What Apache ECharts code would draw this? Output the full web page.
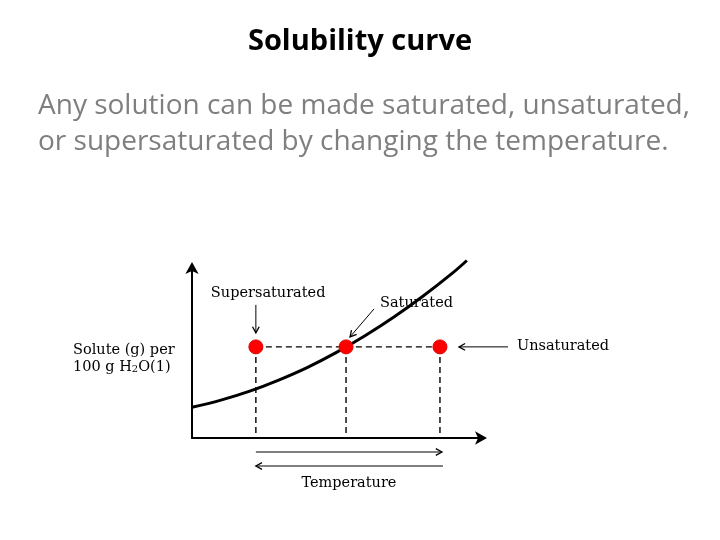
<!DOCTYPE html>
<html>
<head>
<meta charset="utf-8">
<script src="https://cdn.jsdelivr.net/npm/echarts@6/dist/echarts.min.js"></script>
<style>
html,body{margin:0;padding:0;background:#fff;}
#chart{width:720px;height:540px;}
</style>
</head>
<body>
<div id="chart"></div>
<script>
// curve (temperature / solute, arbitrary units 0-100)
var curveTemp = [0, 10, 20, 30, 40, 50, 60, 70, 80, 90, 95.1];
var curveSolute = [18.1, 22.3, 27.6, 34.1, 41.6, 50.4, 60.3, 71.3, 83.5, 96.8, 104.4];

// the three red points
var pointNames = ['Supersaturated', 'Saturated', 'Unsaturated'];
var pointTemp = [22.1, 53.3, 85.8];
var pointSolute = [53.6, 53.6, 53.6];

var titleText = 'Solubility curve';
var bodyLines = ['Any solution can be made saturated, unsaturated,',
                 'or supersaturated by changing the temperature.'];
var yLabelLines = ['Solute (g) per', '100 g H{sub|2}O(1)'];
var xLabel = 'Temperature';

var chart = echarts.init(document.getElementById('chart'));

var curveData = curveTemp.map(function(t, i){ return [t, curveSolute[i]]; });
var dotData = pointTemp.map(function(t, i){ return {name: pointNames[i], value: [t, pointSolute[i]]}; });

var dash = {color:'#000', width:1.4, type:[6,4]};

var series = [];
series.push({
  type:'line', data:[[pointTemp[0], pointSolute[0]], [pointTemp[2], pointSolute[2]]],
  symbol:'none', lineStyle:dash, clip:false, z:1, silent:true
});
pointTemp.forEach(function(t, i){
  series.push({
    type:'line', data:[[t, pointSolute[i]], [t, 0]],
    symbol:'none', lineStyle:dash, clip:false, z:1, silent:true
  });
});
series.push({
  type:'line', data:curveData, smooth:0.4, symbol:'none', clip:false, z:3,
  lineStyle:{color:'#000', width:3}
});
series.push({
  type:'scatter', data:dotData, symbolSize:14, z:5,
  itemStyle:{color:'#ff0000', borderColor:'#e00000', borderWidth:1, opacity:1}
});

var axisBase = {
  type:'value', min:0, max:100,
  axisLine:{show:true, symbol:['none','arrow'], symbolSize:[10,12], symbolOffset:[0,6],
            lineStyle:{color:'#000', width:2}},
  axisTick:{show:false}, axisLabel:{show:false}, splitLine:{show:false}
};

chart.setOption({
  animation:false,
  backgroundColor:'#fff',
  grid:{left:192, top:268, width:289, height:170, containLabel:false, outerBoundsMode:'none'},
  xAxis:axisBase,
  yAxis:axisBase,
  series:series
});

// annotations placed relative to the points through the grid's scale
function arrow(x1, y1, x2, y2){
  var a = Math.atan2(y2 - y1, x2 - x1), h = 7, w = 0.5;
  return [
    {type:'line', silent:true, shape:{x1:x1, y1:y1, x2:x2, y2:y2}, style:{stroke:'#000', lineWidth:1}},
    {type:'polyline', silent:true, shape:{points:[
      [x2 - h*Math.cos(a - w), y2 - h*Math.sin(a - w)], [x2, y2],
      [x2 - h*Math.cos(a + w), y2 - h*Math.sin(a + w)]]},
      style:{stroke:'#000', lineWidth:1.3, fill:null}}
  ];
}
function label(text, x, y, align){
  return {type:'text', silent:true, x:x, y:y, style:{
    text:text, fill:'#000', font:'14.5px "DejaVu Serif"', align:align || 'left', verticalAlign:'middle',
    rich:{sub:{fontSize:10, fontFamily:'DejaVu Serif', verticalAlign:'bottom', padding:[6,0,0,0]}}
  }};
}

var p = pointTemp.map(function(t, i){ return chart.convertToPixel({gridIndex:0}, [t, pointSolute[i]]); });
var o = chart.convertToPixel({gridIndex:0}, [0, 0]);

var g = [];
g.push({type:'text', silent:true, x:360, y:42, style:{
  text:titleText, fill:'#000', font:'bold 29px "Open Sans"', align:'center', verticalAlign:'middle'}});
bodyLines.forEach(function(s, i){
  g.push({type:'text', silent:true, x:38, y:106 + i*36, style:{
    text:s, fill:'#7f7f7f', font:'28px "Open Sans"', align:'left', verticalAlign:'middle'}});
});

g.push(label(pointNames[0], p[0][0] - 45, p[0][1] - 54));
g = g.concat(arrow(p[0][0], p[0][1] - 42, p[0][0], p[0][1] - 14));
g.push(label(pointNames[1], p[1][0] + 34, p[1][1] - 44));
g = g.concat(arrow(p[1][0] + 28, p[1][1] - 38, p[1][0] + 4, p[1][1] - 10));
g.push(label(pointNames[2], p[2][0] + 77, p[2][1] - 1));
g = g.concat(arrow(p[2][0] + 68, p[2][1], p[2][0] + 19, p[2][1]));

g = g.concat(arrow(p[0][0], o[1] + 14, p[2][0] + 2, o[1] + 14));
g = g.concat(arrow(p[2][0] + 3, o[1] + 28, p[0][0], o[1] + 28));
g.push(label(xLabel, (p[0][0] + p[2][0]) / 2 + 1, o[1] + 45, 'center'));

g.push(label(yLabelLines[0], 73, p[0][1] + 3));
g.push(label(yLabelLines[1], 73, p[0][1] + 20));

chart.setOption({graphic:g});
</script>
</body>
</html>
